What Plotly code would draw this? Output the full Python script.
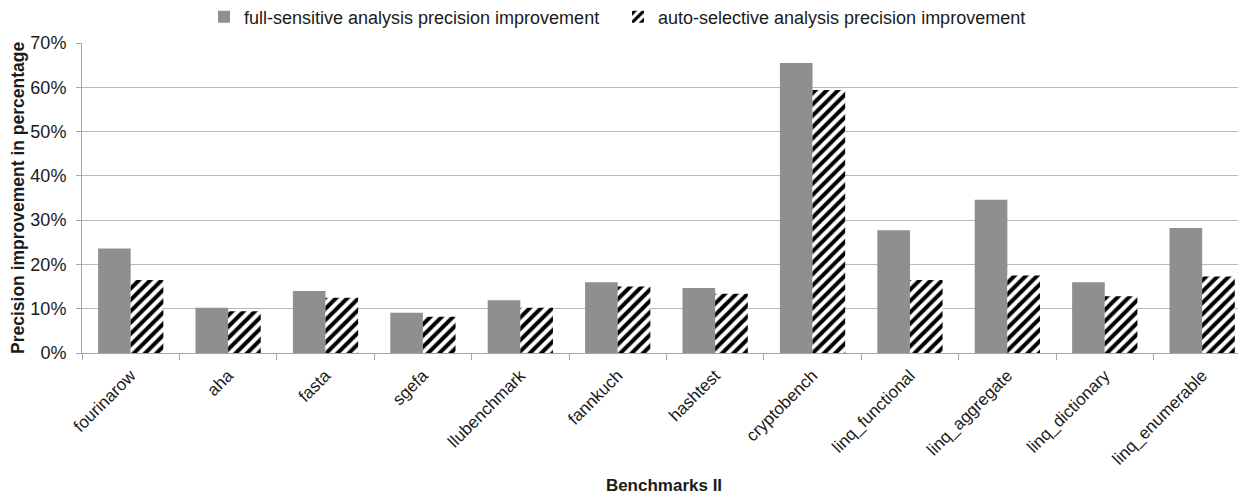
import plotly.graph_objects as go

categories = ["fourinarow", "aha", "fasta", "sgefa", "llubenchmark", "fannkuch",
              "hashtest", "cryptobench", "linq_functional", "linq_aggregate",
              "linq_dictionary", "linq_enumerable"]
full_sensitive = [23.6, 10.2, 14.0, 9.1, 11.9, 16.0, 14.7, 65.5, 27.7, 34.6, 16.0, 28.2]
auto_selective = [16.5, 9.4, 12.5, 8.2, 10.2, 15.0, 13.4, 59.4, 16.5, 17.5, 12.8, 17.3]
y_ticks = [0, 10, 20, 30, 40, 50, 60, 70]
y_tick_labels = [f"{v}%" for v in y_ticks]

font_family = "Liberation Sans, Arial, sans-serif"
# the page body has an 8px margin, so the figure is drawn 8px smaller and offset
OFF = 8
W, H = 1246 - OFF, 499 - OFF
PLOT_LEFT, PLOT_TOP, PLOT_H = 82 - OFF, 43 - OFF, 310
PLOT_W = W - PLOT_LEFT

fig = go.Figure()
fig.add_trace(go.Bar(
    name="full-sensitive analysis precision improvement",
    x=categories, y=full_sensitive,
    marker=dict(color="#8f8f8f", line=dict(width=0)),
    legend="legend",
))
fig.add_trace(go.Bar(
    name="auto-selective analysis precision improvement",
    x=categories, y=auto_selective,
    marker=dict(color="white", line=dict(width=0),
                pattern=dict(shape="/", fgcolor="black", bgcolor="white",
                             fgopacity=1, size=8, solidity=0.5)),
    legend="legend2",
))

legend_common = dict(orientation="h", yref="paper", y=1 + (PLOT_TOP - (17 - OFF)) / PLOT_H,
                     yanchor="middle", xref="container", xanchor="left",
                     font=dict(size=18, color="#1a1a1a"), itemwidth=30,
                     bgcolor="rgba(0,0,0,0)", borderwidth=0)

fig.update_layout(
    width=W, height=H,
    margin=dict(l=PLOT_LEFT, r=0, t=PLOT_TOP, b=H - PLOT_TOP - PLOT_H, autoexpand=False),
    paper_bgcolor="white", plot_bgcolor="white",
    barmode="group", bargap=0.33, bargroupgap=0,
    font=dict(family=font_family, size=18, color="#1a1a1a"),
    showlegend=True,
    legend=dict(x=(228 - OFF - 14 - 10) / W, **legend_common),
    legend2=dict(x=(652 - OFF - 14 - 10 - 10) / W, **legend_common),
    xaxis=dict(
        range=[-0.5, 11.45], automargin=False,
        showline=True, linecolor="#a6a6a6", linewidth=1,
        ticks="outside", tickson="boundaries", ticklen=6, tickcolor="#a6a6a6",
        tickangle=-45, tickfont=dict(size=17),
        ticklabelstandoff=5,
        title=dict(text="<b>Benchmarks II</b>", font=dict(size=17), standoff=11),
        showgrid=False,
    ),
    yaxis=dict(
        range=[0, 70], tickvals=y_ticks, ticktext=y_tick_labels, automargin=False,
        showline=True, linecolor="#a6a6a6", linewidth=1,
        ticks="outside", ticklen=5, tickcolor="#a6a6a6", ticklabelstandoff=6,
        showgrid=True, gridcolor="#b8b8b8", gridwidth=1,
        tickfont=dict(size=18),
        zeroline=False,
    ),
    annotations=[dict(
        text="<b>Precision improvement in percentage</b>",
        textangle=-90, font=dict(size=17.5, color="#1a1a1a"),
        xref="paper", yref="paper",
        x=((18 - OFF) - PLOT_LEFT) / PLOT_W, y=0.5,
        xanchor="center", yanchor="middle", showarrow=False,
    )],
)

fig.write_html("out.html", config={"displayModeBar": False})
